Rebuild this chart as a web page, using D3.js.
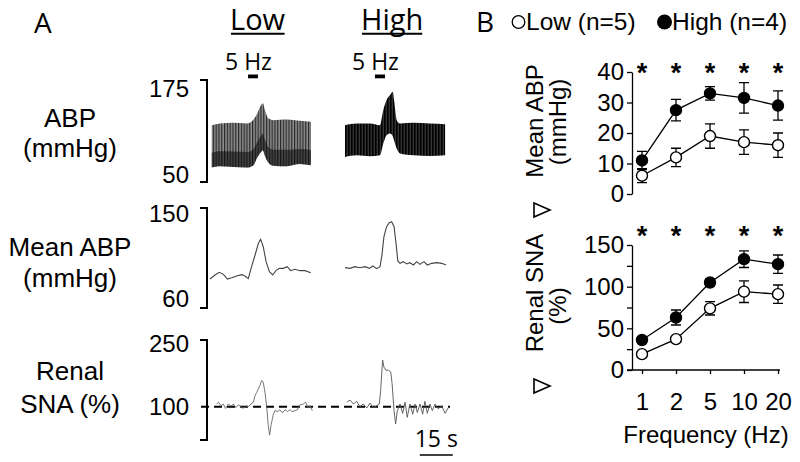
<!DOCTYPE html>
<html><head><meta charset="utf-8">
<script src="https://cdn.jsdelivr.net/npm/d3@7"></script>
<style>
html,body{margin:0;padding:0;background:#fff;}
svg{display:block;}
text{font-family:"Liberation Sans",Arial,sans-serif;fill:#000;}
.cal{font-family:"Open Sans","Liberation Sans",sans-serif;}
</style></head>
<body>
<svg id="c" width="800" height="462"></svg>
<script>
// ---------- Panel A data ----------
// ABP raw trace envelopes (mmHg) vs time (s)
const abpLowT     = [0.8, 4.5, 10.6, 16.7, 19.5, 21.5, 23, 24, 25, 26.5, 28.8, 34.9, 40.9, 45.9];
const abpLowUpper = [119.7,121.8,122.5,121.8,125.8,134,143,146.4,138,128,125.8,126.7,125,123.7];
const abpLowLower = [67.7,69.3,68.4,67.7,70,80,86,89,82,74,70,69.3,72,70.5];
const abpHighT     = [0, 5.3, 11.4, 15.9, 17.4, 18.9, 20.5, 21.7, 22.3, 23.5, 25, 31.1, 38.6, 45.5];
const abpHighUpper = [119.7,121.8,121.8,119.7,138.1,150.4,156.6,160.6,150.4,125.8,121.8,122.5,121.8,120.9];
const abpHighLower = [80.7,82.8,81.6,82.8,97.2,107.4,109.5,106,101,91,85,82.8,82,82.8];
// Mean ABP traces (mmHg)
const mapLowT  = [0,2.3,4.2,6.1,7.9,9.9,12.1,14.4,15.9,17.4,18.9,20.5,22,23,24.2,25.5,27,28.5,30,31.5,33.3,35.1,36.7,38.6,40.9,43.2,45.8];
const mapLowV  = [86.1,89.7,92.1,90.3,86.1,87.3,88.8,90,88.8,86.4,97.2,107.7,118.2,121.8,115.2,101.7,92.7,89.7,93.6,95.7,95.7,97.2,93.6,94.8,93.6,93.6,91.8];
const mapHighT = [0,2.3,4.5,6.8,9.1,11.1,12.6,14.4,15.9,16.7,17.7,18.9,20.1,21.2,22.3,23.2,24,25,26.5,28,29.5,31.1,32.6,34.1,35.9,37.4,39.4,41.7,44,45.9];
const mapHighV = [96.3,95.7,97.2,96.3,97.2,95.7,97.8,95.4,97.2,106.2,124.2,133.2,136.8,137.7,133.2,118.2,102.3,100.2,101.7,99.6,100.8,98.7,101.7,99.3,101.7,98.7,100.2,100.8,100.2,98.7];
// Renal SNA traces (%)
const snaLowT  = [3.0,3.8,5.0,6.0,7.1,8.3,9.5,10.6,11.7,12.9,14.1,15.1,16.2,17.4,18.6,19.7,20.5,21.2,22.0,22.7,23.5,24.2,25.0,25.8,26.5,27.1,27.7,28.8,29.5,30.8,31.8,32.9,34.1,35.3,36.3,37.4,38.6,39.7,40.9,42.4,43.5,44.5,45.5,46.5];
const snaLowV  = [106,110,102,106,96,106,101,106,98,104,100,96,102,100,106,110,125,132,140,148,159,155,132,98,57,36,57,83,91,89,93,86,93,89,93,89,91,93,104,106,110,98,102,91];
const snaHighT = [0.8,2.3,3.8,5.3,6.8,8.3,9.9,11.4,12.9,14.4,15.6,16.2,17.1,17.7,18.6,19.7,20.8,21.4,22.3,23.0,23.8,25.0,26.2,27.3,28.3,29.5,30.8,31.8,32.9,34.1,35.3,36.3,37.4,38.6,39.7,40.9,42.4,43.9,45.5,47.0];
const snaHighV = [110,115,106,112,100,106,97,108,98,102,106,136,205,189,182,182,178,152,91,61,91,106,85,110,76,106,83,106,87,106,83,112,85,106,91,106,95,102,85,98];
// stimulus period (s) and scale bar
const stimLow  = [17.3, 21.8];
const stimHigh = [13.6, 18.2];
const scaleBarSec = [34, 49];
const abpTicks = [50, 175];
const mapTicks = [60, 150];
const snaTicks = [250, 100];

// ---------- Panel B data ----------
const freqs = ["1", "2", "5", "10", "20"];
const mapLow     = [6, 12, 19, 17, 16];
const mapLowErr  = [2.3, 3, 4, 4, 4];
const mapHigh    = [11, 27.5, 33, 31.5, 29];
const mapHighErr = [3, 3.5, 2.2, 5, 4.8];
const snaLow     = [19, 37, 74, 94, 91];
const snaLowErr  = [3, 3, 8, 13, 11];
const snaHigh    = [36, 63, 105, 133, 127];
const snaHighErr = [3, 9, 4, 10, 11];
const mapYTicks = [0, 10, 20, 30, 40];
const snaYTicks = [0, 25, 50, 75, 100, 125, 150];

const svg = d3.select("#c");
const defs = svg.append("defs");
const pL = defs.append("pattern").attr("id","stripesLow").attr("patternUnits","userSpaceOnUse").attr("width",2.8).attr("height",6);
pL.append("rect").attr("width",2.8).attr("height",6).attr("fill","#8c8c8c");
pL.append("rect").attr("width",1.2).attr("height",6).attr("fill","#2a2a2a");
const pH = defs.append("pattern").attr("id","stripesHigh").attr("patternUnits","userSpaceOnUse").attr("width",3).attr("height",6);
pH.append("rect").attr("width",3).attr("height",6).attr("fill","#333");
pH.append("rect").attr("width",1.6).attr("height",6).attr("fill","#000");

// ---------- Panel A ----------
const xLow  = d3.scaleLinear().domain([0, 46]).range([210, 311.2]);
const xHigh = d3.scaleLinear().domain([0, 46]).range([345, 446.2]);
const yABP = d3.scaleLinear().domain([50, 175]).range([182, 80]);
const yMAP = d3.scaleLinear().domain([60, 150]).range([308, 208]);
const ySNA = d3.scaleLinear().domain([25, 250]).range([440, 340]);

svg.append("text").attr("class","cal").attr("x",34).attr("y",33).attr("font-size",28).text("A");
svg.append("text").attr("class","cal").attr("x",476).attr("y",32).attr("font-size",28).text("B");

// group titles
function underlined(txt, x, y){
  const t = svg.append("text").attr("class","cal").attr("x",x).attr("y",y).attr("font-size",29).text(txt);
  const bb = t.node().getBBox();
  svg.append("line").attr("x1",bb.x+1).attr("x2",bb.x+bb.width-1).attr("y1",y+4.3).attr("y2",y+4.3)
     .attr("stroke","#000").attr("stroke-width",2);
}
underlined("Low", 230, 29.5);
underlined("High", 361, 29.5);

// 5 Hz labels + stim bars
[[xLow, stimLow, 225],[xHigh, stimHigh, 352]].forEach(([xs, st, tx])=>{
  svg.append("text").attr("class","cal").attr("x",tx).attr("y",70).attr("font-size",23).text("5 Hz");
  svg.append("rect").attr("x",xs(st[0])).attr("width",xs(st[1])-xs(st[0])).attr("y",74.5).attr("height",3.8).attr("fill","#000");
});

// brackets
function bracket(scale, ticks, labelPlace){
  const r = scale.range();
  const x0 = 207;
  const g = svg.append("g");
  g.append("path").attr("d",`M${x0-7},${r[1]}H${x0}V${r[0]}H${x0-7}`).attr("fill","none").attr("stroke","#000").attr("stroke-width",2);
  ticks.forEach((t,i)=>{
    g.append("text").attr("x",189).attr("y",scale(t)+labelPlace[i]).attr("text-anchor","end").attr("font-size",24).text(t);
  });
}
bracket(yABP, abpTicks, [1, 17]);
bracket(yMAP, mapTicks, [-1, 14]);
bracket(ySNA, snaTicks, [12, 8]);

// Left labels
function lbl(lines){
  lines.forEach(([t,y])=>svg.append("text").attr("x",70).attr("y",y).attr("text-anchor","middle").attr("font-size",26).text(t));
}
lbl([["ABP",127],["(mmHg)",157]]);
lbl([["Mean ABP",256],["(mmHg)",287]]);
lbl([["Renal",380],["SNA (%)",413]]);

// ABP raw traces
function abpTrace(xs, T, U, L, fillId, core){
  const data = T.map((t,i)=>({t, u:U[i], l:L[i]}));
  const area = d3.area().curve(d3.curveMonotoneX).x(d=>xs(d.t)).y0(d=>yABP(d.l)).y1(d=>yABP(d.u));
  svg.append("path").datum(data).attr("d",area).attr("fill",`url(#${fillId})`);
  if(core){
    const area2 = d3.area().curve(d3.curveMonotoneX).x(d=>xs(d.t)).y0(d=>yABP(d.l)).y1(d=>yABP(d.l + (d.u-d.l)*0.35));
    svg.append("path").datum(data).attr("d",area2).attr("fill","#000").attr("opacity",0.5);
  }
}
abpTrace(xLow, abpLowT, abpLowUpper, abpLowLower, "stripesLow", true);
abpTrace(xHigh, abpHighT, abpHighUpper, abpHighLower, "stripesHigh", false);

// Mean ABP traces
const lineMAP = xs => d3.line().x(d=>xs(d[0])).y(d=>yMAP(d[1]));
svg.append("path").datum(d3.zip(mapLowT,mapLowV)).attr("d",lineMAP(xLow)).attr("fill","none").attr("stroke","#444").attr("stroke-width",1.1);
svg.append("path").datum(d3.zip(mapHighT,mapHighV)).attr("d",lineMAP(xHigh)).attr("fill","none").attr("stroke","#444").attr("stroke-width",1.1);

// Renal SNA dashed baseline + traces
svg.append("line").attr("x1",201).attr("x2",450).attr("y1",ySNA(100)).attr("y2",ySNA(100))
  .attr("stroke","#000").attr("stroke-width",2).attr("stroke-dasharray","8,5");
const lineSNA = xs => d3.line().x(d=>xs(d[0])).y(d=>ySNA(d[1]));
svg.append("path").datum(d3.zip(snaLowT,snaLowV)).attr("d",lineSNA(xLow)).attr("fill","none").attr("stroke","#666").attr("stroke-width",0.9);
svg.append("path").datum(d3.zip(snaHighT,snaHighV)).attr("d",lineSNA(xHigh)).attr("fill","none").attr("stroke","#555").attr("stroke-width",0.9);

// scale bar
svg.append("text").attr("class","cal").attr("x",(xHigh(scaleBarSec[0])+xHigh(scaleBarSec[1]))/2).attr("y",447).attr("text-anchor","middle").attr("font-size",23).text("15 s");
svg.append("line").attr("x1",xHigh(scaleBarSec[0])).attr("x2",xHigh(scaleBarSec[1])).attr("y1",455).attr("y2",455).attr("stroke","#000").attr("stroke-width",1.5);

// ---------- Panel B ----------
// legend
svg.append("circle").attr("cx",518.5).attr("cy",22).attr("r",6.3).attr("fill","#fff").attr("stroke","#000").attr("stroke-width",1.3);
svg.append("text").attr("x",526).attr("y",30).attr("font-size",24.5).text("Low (n=5)");
svg.append("circle").attr("cx",664.5).attr("cy",22).attr("r",7.5).attr("fill","#000");
svg.append("text").attr("x",672).attr("y",30).attr("font-size",24.5).text("High (n=4)");

const xB = d3.scalePoint().domain(freqs).range([642, 778]);
const yB1 = d3.scaleLinear().domain([0,40]).range([194,72]);
const yB2 = d3.scaleLinear().domain([0,150]).range([370,245]);

function chart(yS, yTicks, fmt, low, lowE, high, highE, starY){
  const ax = svg.append("g").attr("transform","translate(632,0)")
    .call(d3.axisLeft(yS).tickValues(yTicks).tickSize(5).tickPadding(3).tickSizeOuter(0).tickFormat(fmt));
  ax.select(".domain").attr("stroke-width",1.3);
  ax.selectAll(".tick line").attr("stroke-width",1.3);
  ax.selectAll("text").attr("font-size",24).attr("font-family","Liberation Sans, Arial, sans-serif");
  [[low,lowE,"#fff"],[high,highE,"#000"]].forEach(([v,e,fill])=>{
    const d = freqs.map((f,i)=>({f, v:v[i], e:e[i]}));
    svg.append("path").datum(d).attr("d",d3.line().x(p=>xB(p.f)).y(p=>yS(p.v))).attr("fill","none").attr("stroke","#000").attr("stroke-width",1.3);
    const g = svg.append("g");
    d.forEach(p=>{
      const x = xB(p.f);
      g.append("path").attr("d",`M${x},${yS(p.v-p.e)}V${yS(p.v+p.e)}M${x-5},${yS(p.v+p.e)}H${x+5}M${x-5},${yS(p.v-p.e)}H${x+5}`)
        .attr("stroke","#000").attr("stroke-width",1.3).attr("fill","none");
    });
    d.forEach(p=>{
      g.append("circle").attr("cx",xB(p.f)).attr("cy",yS(p.v)).attr("r",5.5).attr("fill",fill).attr("stroke","#000").attr("stroke-width",1.4);
    });
  });
  freqs.forEach(f=>svg.append("text").attr("x",xB(f)).attr("y",starY).attr("text-anchor","middle").attr("font-size",27).attr("font-weight","bold").text("*"));
}
chart(yB1, mapYTicks, d=>d, mapLow, mapLowErr, mapHigh, mapHighErr, 82);
chart(yB2, snaYTicks, d=>(d%50===0?d:""), snaLow, snaLowErr, snaHigh, snaHighErr, 245);

// x axis bottom
const xa = svg.append("g").attr("transform",`translate(0,${yB2(0)})`)
  .call(d3.axisBottom(xB).tickSize(4).tickPadding(19));
xa.select(".domain").remove();
xa.selectAll(".tick line").attr("stroke-width",1.3);
xa.selectAll("text").attr("font-size",24).attr("font-family","Liberation Sans, Arial, sans-serif");
svg.append("line").attr("x1",627).attr("x2",780).attr("y1",yB2(0)).attr("y2",yB2(0)).attr("stroke","#000").attr("stroke-width",1.3);
svg.append("text").attr("x",706).attr("y",443).attr("text-anchor","middle").attr("font-size",24).text("Frequency (Hz)");

// rotated labels
function rot(t, x, y){
  svg.append("text").attr("transform",`translate(${x},${y}) rotate(-90)`).attr("text-anchor","middle").attr("font-size",24).text(t);
}
rot("Mean ABP", 543, 121);
rot("(mmHg)", 566, 122);
rot("Renal SNA", 543, 293);
rot("(%)", 566, 306);
// delta triangles
[[542,210],[542,386]].forEach(([cx,cy])=>{
  svg.append("path").attr("d",`M${cx-8},${cy-7}L${cx+8},${cy}L${cx-8},${cy+7}Z`).attr("fill","none").attr("stroke","#000").attr("stroke-width",1.6);
});
</script>
</body></html>
